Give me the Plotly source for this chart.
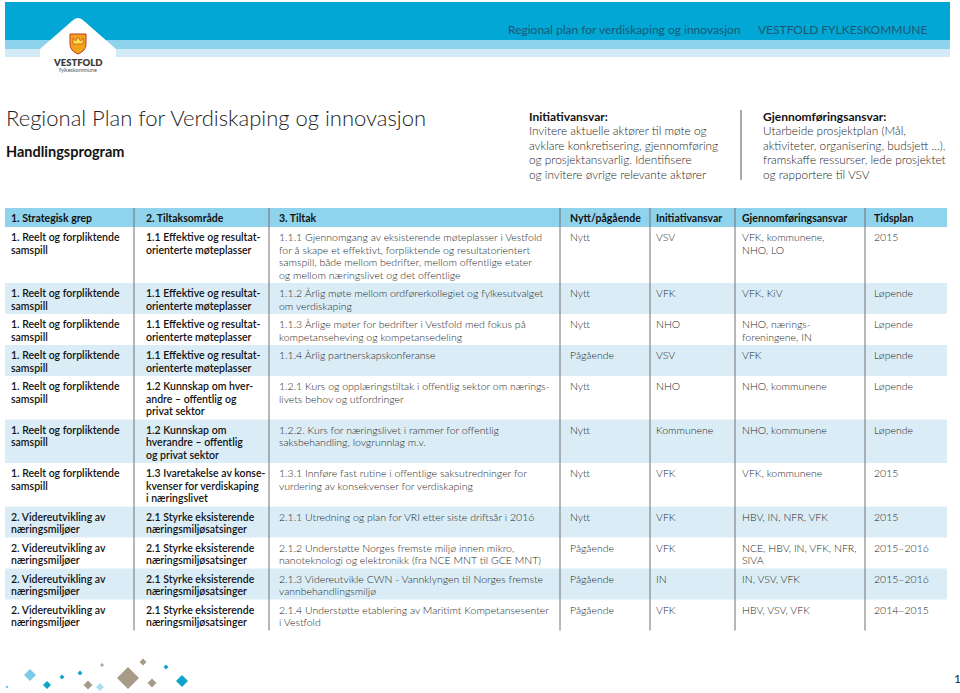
import plotly.graph_objects as go

# table content
headers = ["1. Strategisk grep", "2. Tiltaksområde", "3. Tiltak", "Nytt/pågående",
           "Initiativansvar", "Gjennomføringsansvar", "Tidsplan"]

strategisk = ["1. Reelt og forpliktende<br>samspill"] * 7 + ["2. Videreutvikling av<br>næringsmiljøer"] * 4

tiltaksomrade = (["1.1 Effektive og resultat-<br>orienterte møteplasser"] * 4 + [
    "1.2 Kunnskap om hver-<br>andre – offentlig og<br>privat sektor",
    "1.2 Kunnskap om<br>hverandre – offentlig<br>og privat sektor",
    "1.3 Ivaretakelse av konse-<br>kvenser for verdiskaping<br>i næringslivet",
] + ["2.1 Styrke eksisterende<br>næringsmiljøsatsinger"] * 4)

tiltak = [
    "1.1.1 Gjennomgang av eksisterende møteplasser i Vestfold<br>for å skape et effektivt, forpliktende og resultatorientert<br>samspill, både mellom bedrifter, mellom offentlige etater<br>og mellom næringslivet og det offentlige",
    "1.1.2 Årlig møte mellom ordførerkollegiet og fylkesutvalget<br>om verdiskaping",
    "1.1.3 Årlige møter for bedrifter i Vestfold med fokus på<br>kompetanseheving og kompetansedeling",
    "1.1.4 Årlig partnerskapskonferanse",
    "1.2.1 Kurs og opplæringstiltak i offentlig sektor om nærings-<br>livets behov og utfordringer",
    "1.2.2. Kurs for næringslivet i rammer for offentlig<br>saksbehandling, lovgrunnlag m.v.",
    "1.3.1 Innføre fast rutine i offentlige saksutredninger for<br>vurdering av konsekvenser for verdiskaping",
    "2.1.1 Utredning og plan for VRI etter siste driftsår i 2016",
    "2.1.2 Understøtte Norges fremste miljø innen mikro,<br>nanoteknologi og elektronikk (fra NCE MNT til GCE MNT)",
    "2.1.3 Videreutvikle CWN - Vannklyngen til Norges fremste<br>vannbehandlingsmiljø",
    "2.1.4 Understøtte etablering av Maritimt Kompetansesenter<br>i Vestfold",
]

status = ["Nytt", "Nytt", "Nytt", "Pågående", "Nytt", "Nytt", "Nytt",
          "Nytt", "Pågående", "Pågående", "Pågående"]

initiativ = ["VSV", "VFK", "NHO", "VSV", "NHO", "Kommunene", "VFK",
             "VFK", "VFK", "IN", "VFK"]

gjennomforing = ["VFK, kommunene,<br>NHO, LO", "VFK, KiV", "NHO, nærings-<br>foreningene, IN", "VFK",
                 "NHO, kommunene", "NHO, kommunene", "VFK, kommunene",
                 "HBV, IN, NFR, VFK", "NCE, HBV, IN, VFK, NFR,<br>SIVA", "IN, VSV, VFK", "HBV, VSV, VFK"]

tidsplan = ["2015", "Løpende", "Løpende", "Løpende", "Løpende", "Løpende", "2015",
            "2015", "2015–2016", "2015–2016", "2014–2015"]

initiativ_tekst = ["Invitere aktuelle aktører til møte og",
                   "avklare konkretisering, gjennomføring",
                   "og prosjektansvarlig. Identifisere",
                   "og invitere øvrige relevante aktører"]
gjennomforing_tekst = ["Utarbeide prosjektplan (Mål,",
                       "aktiviteter, organisering, budsjett ...),",
                       "framskaffe ressurser, lede prosjektet",
                       "og rapportere til VSV"]

FONT = "Lato"
LIGHT = "#262626"
DARK = "#121212"

col_edges = [5, 134, 269, 560, 650, 735, 865, 947]
col_pad = [4, 10, 8, 8, 4, 5, 7]

fig = go.Figure()
shapes = []
annots = []


def text(x, y, s, size, color=LIGHT, weight=300, anchor="left", family=FONT):
    annots.append(dict(x=x, y=y, text=s, xref="x", yref="y", showarrow=False,
                       xanchor=anchor, yanchor="middle",
                       font=dict(family=family, size=size, color=color, weight=weight)))


def rect(x0, y0, x1, y1, color):
    shapes.append(dict(type="rect", x0=x0, y0=y0, x1=x1, y1=y1, xref="x", yref="y",
                       fillcolor=color, line=dict(width=0), layer="below"))


# banner
rect(5, 2, 950, 40, "#03a7d5")
rect(5, 40, 950, 49, "#8fd2eb")
rect(5, 49, 950, 57, "#d2ebf6")
shapes.append(dict(type="path", xref="x", yref="y",
                   path="M 40 58 L 40 49 L 72 21 Q 78 15 84 21 L 116 49 L 116 58 Z",
                   fillcolor="white", line=dict(width=0)))
# shield
shapes.append(dict(type="path", xref="x", yref="y",
                   path="M 70 34 L 86 34 L 86 44 Q 86 51 78 54 Q 70 51 70 44 Z",
                   fillcolor="#f2a31c", line=dict(color="#c0392b", width=1)))
shapes.append(dict(type="path", xref="x", yref="y",
                   path="M 73 44 L 73 38 L 75.5 41 L 78 37 L 80.5 41 L 83 38 L 83 44 Z",
                   fillcolor="#ffe14d", line=dict(color="#c0392b", width=0.6)))
text(78, 62, "VESTFOLD", 9.5, color="#3d3d3d", weight=800, anchor="center")
text(78, 70, "fylkeskommune", 5.5, color="#555", weight=400, anchor="center")
text(506, 29, "Regional plan for verdiskaping og innovasjon", 12, color="#1a5873", weight=400)
text(756, 29, "VESTFOLD FYLKESKOMMUNE", 12, color="#1a5873", weight=400)

# titles
text(4, 117, "Regional Plan for Verdiskaping og innovasjon", 22, color="#1e1e1e", weight=300)
text(4, 151, "Handlingsprogram", 14.5, color=DARK, weight=700)

text(527, 116, "Initiativansvar:", 12, color=DARK, weight=700)
for i, s in enumerate(initiativ_tekst):
    text(527, 130.5 + i * 14.6, s, 11.8, color=LIGHT)
shapes.append(dict(type="line", x0=741, x1=741, y0=110, y1=180, xref="x", yref="y",
                   line=dict(color="#555", width=1)))
text(761, 116, "Gjennomføringsansvar:", 12, color=DARK, weight=700)
for i, s in enumerate(gjennomforing_tekst):
    text(761, 130.5 + i * 14.6, s, 11.8, color=LIGHT)

# table
LINE_H = 12.5
head_top, head_bot = 208, 227
rect(col_edges[0], head_top, col_edges[-1], head_bot, "#8fd4ec")
for c, h in enumerate(headers):
    text(col_edges[c] + col_pad[c], (head_top + head_bot) / 2, h, 10.5, color=DARK, weight=700)

columns = [strategisk, tiltaksomrade, tiltak, status, initiativ, gjennomforing, tidsplan]
y = head_bot
for r in range(len(tiltak)):
    cells = [col[r].split("<br>") for col in columns]
    n = max(len(c) for c in cells)
    h = LINE_H * n + 6
    if r % 2 == 1:
        rect(col_edges[0], y, col_edges[-1], y + h, "#daedf7")
    for c, lines in enumerate(cells):
        bold = c < 2
        for i, s in enumerate(lines):
            text(col_edges[c] + col_pad[c], y + 10 + i * LINE_H, s, 10.5,
                 color=DARK if bold else LIGHT, weight=600 if bold else 300)
    y += h
table_bot = y

for xe in col_edges[1:-1]:
    shapes.append(dict(type="line", x0=xe, x1=xe, y0=head_top, y1=table_bot, xref="x", yref="y",
                       line=dict(color="#707070", width=1)))

# decorative diamonds at the foot of the page
diamonds = [(7, 687, 1.5, "#5fc2e0"), (30, 675, 6, "#7dcbe6"), (47, 685, 4, "#10a3cc"),
            (62, 677, 2.5, "#10a3cc"), (80, 673, 2.5, "#10a3cc"), (102, 665, 2, "#b0a596"),
            (88, 685, 4.5, "#a89a88"), (100, 687, 4, "#a9dced"), (128, 678, 11, "#a89a88"),
            (143, 662, 3.5, "#a89a88"), (152, 683, 4.5, "#a89a88"), (166, 667, 2.5, "#10a3cc"),
            (182, 681, 6, "#10a3cc")]
for cx, cy, r, col in diamonds:
    shapes.append(dict(type="path", xref="x", yref="y",
                       path=f"M {cx - r} {cy} L {cx} {cy - r} L {cx + r} {cy} L {cx} {cy + r} Z",
                       fillcolor=col, line=dict(width=0)))
text(957, 678, "1", 12, color="#222", weight=400, anchor="center")

fig.update_layout(
    width=960, height=693,
    margin=dict(l=0, r=0, t=0, b=0),
    paper_bgcolor="white", plot_bgcolor="white",
    xaxis=dict(range=[0, 960], visible=False, fixedrange=True),
    yaxis=dict(range=[693, 0], visible=False, fixedrange=True),
    shapes=shapes, annotations=annots, showlegend=False,
)

fig.write_html("out.html", config={"displayModeBar": False},
               post_script="document.body.style.margin='0';")
